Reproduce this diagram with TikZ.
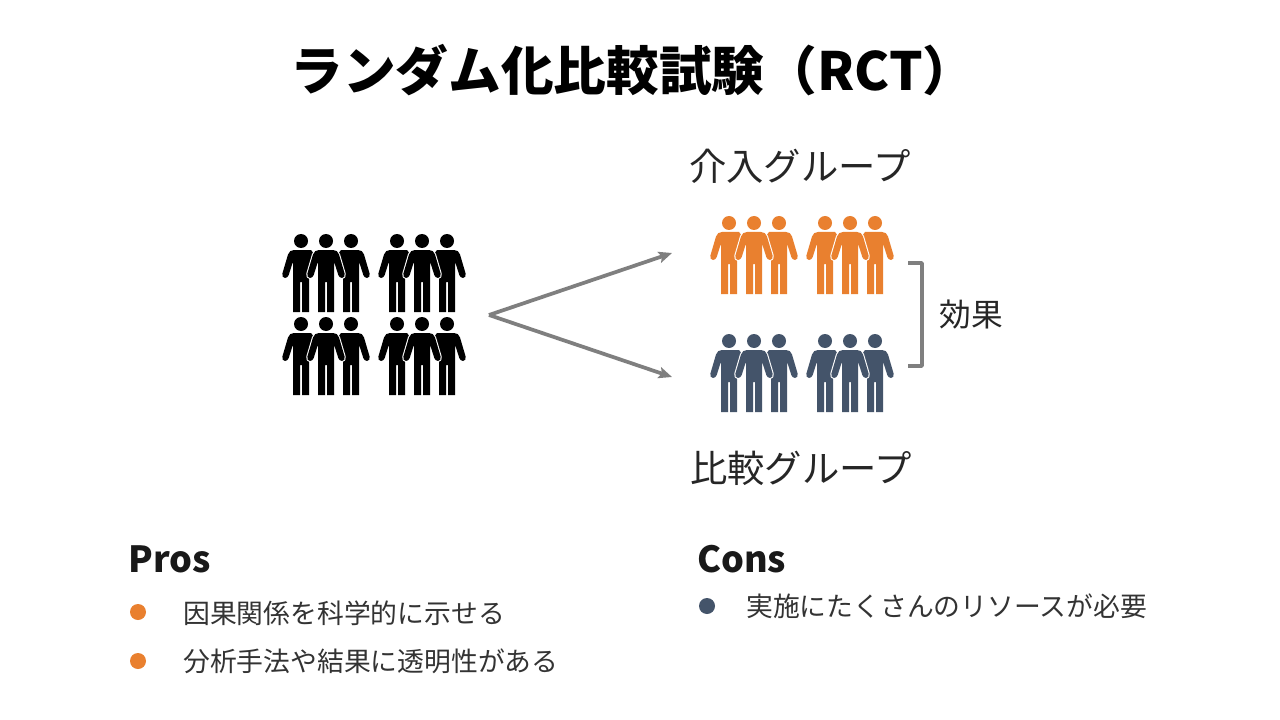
\documentclass[tikz,border=0pt]{standalone}
\usepackage{fontspec}
\setmainfont{Noto Sans CJK JP}
\usetikzlibrary{arrows.meta}
\definecolor{cOrange}{HTML}{E9802F}
\definecolor{cBlue}{HTML}{44546A}
\definecolor{cGray}{HTML}{7F7F7F}
\newcommand{\lefthalf}{(0,9) -- (-7,9) .. controls (-10,9) and (-12,10.5) .. (-13,13.5) -- (-18.6,32.5) .. controls (-19.2,35) and (-18,37) .. (-16,37) .. controls (-14,37) and (-13,35.5) .. (-12.3,34) -- (-8.5,22) -- (-8,22) -- (-8,71) -- (-1,71) -- (-1,41) -- (0,41) -- cycle}
\newcommand{\righthalf}{(0,9) -- (7,9) .. controls (10,9) and (12,10.5) .. (13,13.5) -- (18.6,32.5) .. controls (19.2,35) and (18,37) .. (16,37) .. controls (14,37) and (13,35.5) .. (12.3,34) -- (8.5,22) -- (8,22) -- (8,71) -- (1,71) -- (1,41) -- (0,41) -- cycle}
\tikzset{
  x=0.75pt,y=-0.75pt,
  pics/trio/.style={code={
    \fill[#1] (-25,0) circle[radius=7];
    \fill[#1] (25,0) circle[radius=7];
    \begin{scope}[shift={(-25,0)}]
      \fill[#1] \lefthalf;
      \fill[#1] (0,9) -- (10,9) -- (13,13) -- (8,34) -- (8,71) -- (1,71) -- (1,41) -- (0,41) -- cycle;
    \end{scope}
    \begin{scope}[shift={(25,0)}]
      \fill[#1] \righthalf;
      \fill[#1] (0,9) -- (-10,9) -- (-13,13) -- (-8,34) -- (-8,71) -- (-1,71) -- (-1,41) -- (0,41) -- cycle;
    \end{scope}
    \draw[white,line width=1.6pt,line join=round,fill=white] \lefthalf;
    \draw[white,line width=1.6pt,line join=round,fill=white] \righthalf;
    \fill[#1] \lefthalf;
    \fill[#1] \righthalf;
    \fill[#1] (0,0) circle[radius=7];
  }},
  pics/crowd/.style={code={
    \pic at (0,0) {trio=#1};
    \pic at (96,0) {trio=#1};
  }},
  conn/.style={draw=cGray,line width=2.8pt},
  arrowconn/.style={conn,-{Stealth[length=10pt,width=8.5pt,inset=2pt]}},
  title/.style={font=\fontsize{39.5}{40}\selectfont\bfseries,inner sep=0,text=black},
  grouplabel/.style={font=\fontsize{28}{28}\selectfont,inner sep=0,text=black!85},
  effect/.style={font=\fontsize{23.8}{24}\selectfont,inner sep=0,text=black!85},
  heading/.style={font=\fontsize{27}{28}\selectfont\bfseries,inner sep=0,anchor=west,text=black!90},
  item/.style={font=\fontsize{20.1}{20}\selectfont,inner sep=0,anchor=west,text=black!80},
  bullet/.style={circle,inner sep=0,minimum size=12pt,fill=#1,draw=none},
}
\begin{document}
\begin{tikzpicture}
\useasboundingbox (0,0) rectangle (1280,720);
\fill[white] (0,0) rectangle (1280,720);
\node[title] (ttl) at (633,70) {ランダム化比較試験（RCT）};
\pic at (326,241) {crowd=black};
\pic at (326,324) {crowd=black};
\pic at (754,223) {crowd=cOrange};
\pic at (754,341) {crowd=cBlue};
\coordinate (fork) at (489,315);
\coordinate (upper) at (672,253);
\coordinate (lower) at (672,377);
\draw[arrowconn] (fork) -- (upper);
\draw[arrowconn] (fork) -- (lower);
\coordinate (b1) at (908,263);
\coordinate (b2) at (922,263);
\coordinate (b3) at (922,366);
\coordinate (b4) at (908,366);
\draw[conn,line join=round] (b1) -- (b2) -- (b3) -- (b4);
\node[grouplabel] (g1) at (800,166) {介入グループ};
\node[grouplabel] (g2) at (801,468) {比較グループ};
\node[effect] (eff) at (971.5,315) {効果};
\node[heading] (pros) at (128,559) {Pros};
\node[heading] (cons) at (697,559) {Cons};
\node[bullet=cOrange] (b-a) at (138,612) {};
\node[bullet=cOrange] (b-b) at (138,661) {};
\node[bullet=cBlue] (b-c) at (707,606) {};
\node[item] (i1) at (183,613) {因果関係を科学的に示せる};
\node[item] (i2) at (183,661) {分析手法や結果に透明性がある};
\node[item] (i3) at (746,606) {実施にたくさんのリソースが必要};
\end{tikzpicture}
\end{document}
